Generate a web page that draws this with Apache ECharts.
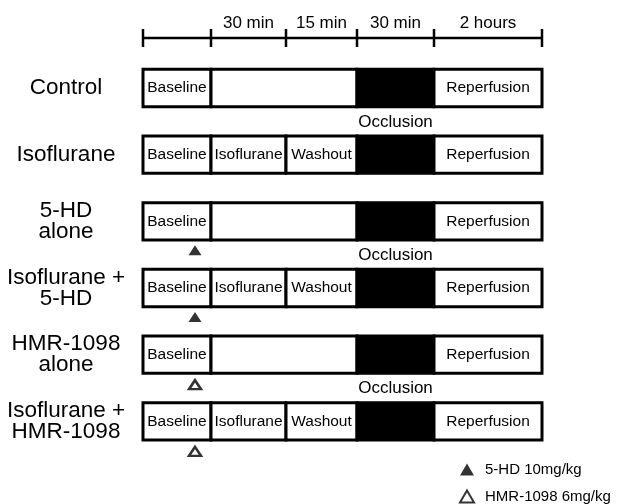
<!DOCTYPE html>
<html>
<head>
<meta charset="utf-8">
<script src="https://cdn.jsdelivr.net/npm/echarts@6/dist/echarts.min.js"></script>
<style>
  html, body { margin: 0; padding: 0; background: #fff; }
  #chart { width: 617px; height: 504px; }
</style>
</head>
<body>
<div id="chart"></div>
<script>
  // schematic position of each phase boundary (not to time scale)
  var phaseBounds = [0, 68, 143, 214, 291, 399];
  var timeLabels = ['', '30 min', '15 min', '30 min', '2 hours'];
  var phaseNames = ['Baseline', 'Isoflurane', 'Washout', '', 'Reperfusion'];
  var groups = ['Control', 'Isoflurane', '5-HD\nalone', 'Isoflurane +\n5-HD', 'HMR-1098\nalone', 'Isoflurane +\nHMR-1098'];
  var preconditioned = [0, 1, 0, 1, 0, 1];
  var occlusionRows = [0, 2, 4];
  var drugTime = 52;
  var fiveHdRows = [2, 3];
  var hmrRows = [4, 5];

  var font = 'Liberation Sans, Arial, sans-serif';

  // segments: [start, end, row, dark], labels kept alongside
  var segData = [];
  var segLabels = [];
  groups.forEach(function (g, r) {
    if (preconditioned[r]) {
      for (var i = 0; i < 5; i++) {
        segData.push([phaseBounds[i], phaseBounds[i + 1], r, i === 3 ? 1 : 0]);
        segLabels.push(phaseNames[i]);
      }
    } else {
      segData.push([phaseBounds[0], phaseBounds[1], r, 0]); segLabels.push(phaseNames[0]);
      segData.push([phaseBounds[1], phaseBounds[3], r, 0]); segLabels.push('');
      segData.push([phaseBounds[3], phaseBounds[4], r, 1]); segLabels.push('');
      segData.push([phaseBounds[4], phaseBounds[5], r, 0]); segLabels.push(phaseNames[4]);
    }
  });

  var timeData = [];
  for (var i = 0; i < 5; i++) timeData.push([phaseBounds[i], phaseBounds[i + 1], 0.5]);

  var myChart = echarts.init(document.getElementById('chart'));

  var option = {
    animation: false,
    backgroundColor: '#fff',
    grid: [
      { left: 143, right: 75, top: 29, height: 18 },
      { left: 143, right: 75, top: 54.7, bottom: 49.3 }
    ],
    xAxis: [
      { gridIndex: 0, type: 'value', min: 0, max: 399, show: false },
      { gridIndex: 1, type: 'value', min: 0, max: 399, show: false }
    ],
    yAxis: [
      { gridIndex: 0, type: 'value', min: 0, max: 1, show: false },
      {
        gridIndex: 1, type: 'category', inverse: true, data: groups,
        axisLine: { show: false }, axisTick: { show: false }, splitLine: { show: false },
        axisLabel: {
          margin: 77, align: 'center', color: '#000',
          fontSize: 22.5, lineHeight: 21, fontFamily: font
        }
      }
    ],
    legend: {
      orient: 'vertical', left: 459, top: 462, height: 50, padding: 0,
      itemWidth: 14, itemHeight: 12, itemGap: 12,
      selectedMode: false,
      textStyle: { fontSize: 15, color: '#000', fontFamily: font, padding: [0, 0, 0, 6] },
      data: ['5-HD 10mg/kg', 'HMR-1098 6mg/kg']
    },
    series: [
      {
        // timeline at top
        type: 'custom', xAxisIndex: 0, yAxisIndex: 0,
        data: timeData, encode: { x: [0, 1], y: 2 }, silent: true,
        renderItem: function (params, api) {
          var s = api.coord([api.value(0), api.value(2)]);
          var e = api.coord([api.value(1), api.value(2)]);
          var h = api.size([0, 1])[1];
          var ch = [
            { type: 'line', shape: { x1: s[0], y1: s[1], x2: e[0], y2: e[1] }, style: { stroke: '#000', lineWidth: 2.5 } },
            { type: 'line', shape: { x1: e[0], y1: e[1] - h / 2, x2: e[0], y2: e[1] + h / 2 }, style: { stroke: '#000', lineWidth: 2.5 } },
            { type: 'text', style: { text: timeLabels[params.dataIndex], x: (s[0] + e[0]) / 2, y: s[1] - 15,
              align: 'center', verticalAlign: 'middle', fontSize: 17, fill: '#000', fontFamily: font } }
          ];
          if (params.dataIndex === 0) {
            ch.push({ type: 'line', shape: { x1: s[0], y1: s[1] - h / 2, x2: s[0], y2: s[1] + h / 2 }, style: { stroke: '#000', lineWidth: 2.5 } });
          }
          return { type: 'group', children: ch };
        }
      },
      {
        // protocol bars
        type: 'custom', xAxisIndex: 1, yAxisIndex: 1,
        data: segData, encode: { x: [0, 1], y: 2 }, silent: true,
        renderItem: function (params, api) {
          var s = api.coord([api.value(0), api.value(2)]);
          var e = api.coord([api.value(1), api.value(2)]);
          var h = api.size([0, 1])[1] * 0.56;
          var dark = api.value(3) === 1;
          return {
            type: 'group', children: [
              { type: 'rect', shape: { x: s[0], y: s[1] - h / 2, width: e[0] - s[0], height: h },
                style: { fill: dark ? '#000' : '#fff', stroke: '#000', lineWidth: 3 } },
              { type: 'text', style: { text: segLabels[params.dataIndex], x: (s[0] + e[0]) / 2, y: s[1],
                align: 'center', verticalAlign: 'middle', fontSize: 15.5, fill: '#000', fontFamily: font } }
            ]
          };
        }
      },
      {
        // "Occlusion" captions
        type: 'custom', xAxisIndex: 1, yAxisIndex: 1, silent: true,
        data: occlusionRows.map(function (r) { return [(phaseBounds[3] + phaseBounds[4]) / 2, r]; }),
        encode: { x: 0, y: 1 },
        renderItem: function (params, api) {
          var p = api.coord([api.value(0), api.value(1)]);
          return { type: 'text', style: { text: 'Occlusion', x: p[0], y: p[1] + 34,
            align: 'center', verticalAlign: 'middle', fontSize: 17, fill: '#000', fontFamily: font } };
        }
      },
      {
        name: '5-HD 10mg/kg', type: 'scatter', xAxisIndex: 1, yAxisIndex: 1, silent: true,
        symbol: 'triangle', symbolSize: [13, 10], symbolOffset: [0, 29],
        itemStyle: { color: '#000' },
        data: fiveHdRows.map(function (r) { return [drugTime, r]; })
      },
      {
        name: 'HMR-1098 6mg/kg', type: 'scatter', xAxisIndex: 1, yAxisIndex: 1, silent: true,
        symbol: 'triangle', symbolSize: [12, 9], symbolOffset: [0, 30],
        itemStyle: { color: '#fff', borderColor: '#000', borderWidth: 2.5 },
        data: hmrRows.map(function (r) { return [drugTime, r]; })
      }
    ]
  };

  myChart.setOption(option);
</script>
</body>
</html>
